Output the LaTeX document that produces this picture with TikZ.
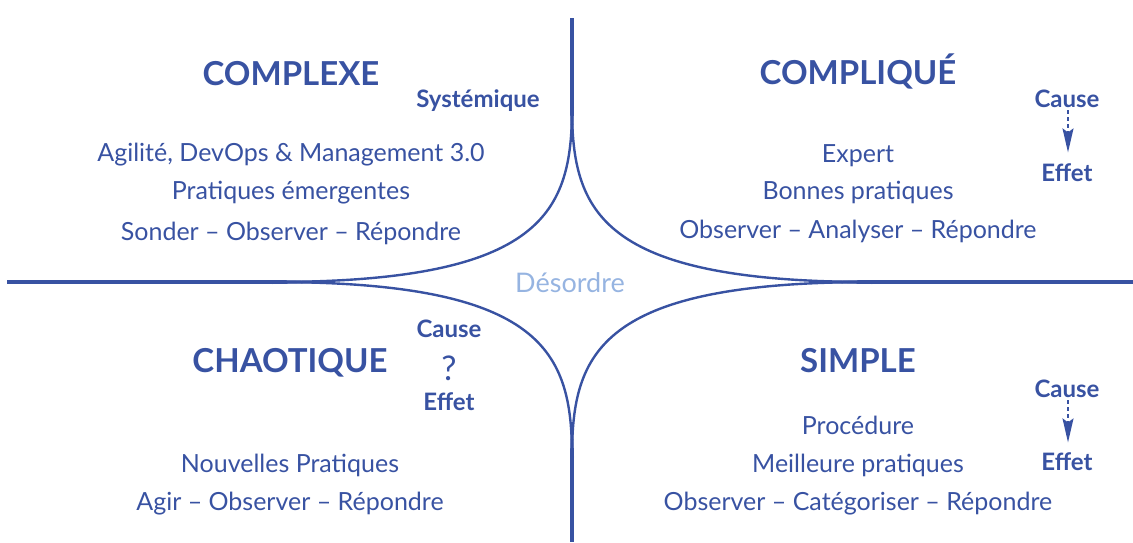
\documentclass[tikz,border=0pt]{standalone}
\usepackage{fontspec}
\setmainfont{Lato}
\usetikzlibrary{arrows.meta}
\definecolor{dblue}{RGB}{56,82,162}
\definecolor{lblue}{RGB}{150,180,225}
\begin{document}
\begin{tikzpicture}[x=1pt,y=-1pt,
  title/.style={font=\fontsize{33}{36}\selectfont\bfseries, text=dblue, anchor=base, inner sep=0pt},
  body/.style={font=\fontsize{25}{28}\selectfont, text=dblue, anchor=base, inner sep=0pt},
  tag/.style={font=\fontsize{24}{28}\selectfont\bfseries, text=dblue, anchor=base, inner sep=0pt},
  axis/.style={draw=dblue, line width=4pt},
  taper/.style={fill=dblue, draw=none},
  branch/.style={draw=dblue, line width=2.4pt},
  causal/.style={draw=dblue, line width=1.6pt, dashed, dash pattern=on 4pt off 3pt, -{Stealth[length=24pt,width=11pt,inset=4pt]}}
]
\useasboundingbox (0,0) rectangle (1133,542);
% axis end points and cusps of the star
\coordinate (vt) at (572,18);
\coordinate (vb) at (572,542);
\coordinate (hl) at (7,282);
\coordinate (hr) at (1133,282);
\coordinate (ct) at (572,107);
\coordinate (cb) at (572,457);
\coordinate (cl) at (272,282);
\coordinate (cr) at (872,282);
\draw[axis] (vt) -- (ct);
\draw[axis] (cb) -- (vb);
\draw[axis] (hl) -- (cl);
\draw[axis] (cr) -- (hr);
% tapered joints between axes and branches
\fill[taper] (570,107) -- (574,107) -- (573.2,135) -- (570.8,135) -- cycle;
\fill[taper] (570,457) -- (574,457) -- (573.2,429) -- (570.8,429) -- cycle;
\fill[taper] (272,280) -- (272,284) -- (320,283.2) -- (320,280.8) -- cycle;
\fill[taper] (872,280) -- (872,284) -- (824,283.2) -- (824,280.8) -- cycle;
% star branches
\draw[branch] (ct) .. controls (572,212) and (544,282) .. (cl);
\draw[branch] (ct) .. controls (572,212) and (600,282) .. (cr);
\draw[branch] (cb) .. controls (572,352) and (544,282) .. (cl);
\draw[branch] (cb) .. controls (572,352) and (600,282) .. (cr);
% COMPLEXE
\node[title] (cx) at (291,85) {COMPLEXE};
\node[tag] (sys) at (478,107) {Systémique};
\node[body] (cx1) at (291,161) {Agilité, DevOps \& Management 3.0};
\node[body] (cx2) at (291,199) {Pratiques émergentes};
\node[body] (cx3) at (291,240) {Sonder – Observer – Répondre};
% COMPLIQUE
\node[title] (cq) at (858,84) {COMPLIQUÉ};
\node[tag] (cqc) at (1067,107) {Cause};
\node[tag] (cqe) at (1067,181) {Effet};
\draw[causal] (cqc.south) ++(1,3) coordinate (cqa) (cqa) -- ++(0,42);
\node[body] (cq1) at (858,162) {Expert};
\node[body] (cq2) at (858,199) {Bonnes pratiques};
\node[body] (cq3) at (858,238) {Observer – Analyser – Répondre};
% Desordre
\node[body, text=lblue, font=\fontsize{27}{30}\selectfont] (ds) at (570,292) {Désordre};
% CHAOTIQUE
\node[title] (ch) at (290,372) {CHAOTIQUE};
\node[tag] (chc) at (449,337) {Cause};
\node[body, font=\fontsize{34}{36}\selectfont] (chq) at (449,380) {?};
\node[tag] (che) at (449,410) {Effet};
\node[body] (ch1) at (290,472) {Nouvelles Pratiques};
\node[body] (ch2) at (290,510) {Agir – Observer – Répondre};
% SIMPLE
\node[title] (sp) at (858,372) {SIMPLE};
\node[tag] (spc) at (1067,397) {Cause};
\node[tag] (spe) at (1067,470) {Effet};
\draw[causal] (spc.south) ++(1,3) coordinate (spa) (spa) -- ++(0,42);
\node[body] (sp1) at (858,434) {Procédure};
\node[body] (sp2) at (858,472) {Meilleure pratiques};
\node[body] (sp3) at (858,510) {Observer – Catégoriser – Répondre};
\end{tikzpicture}
\end{document}
